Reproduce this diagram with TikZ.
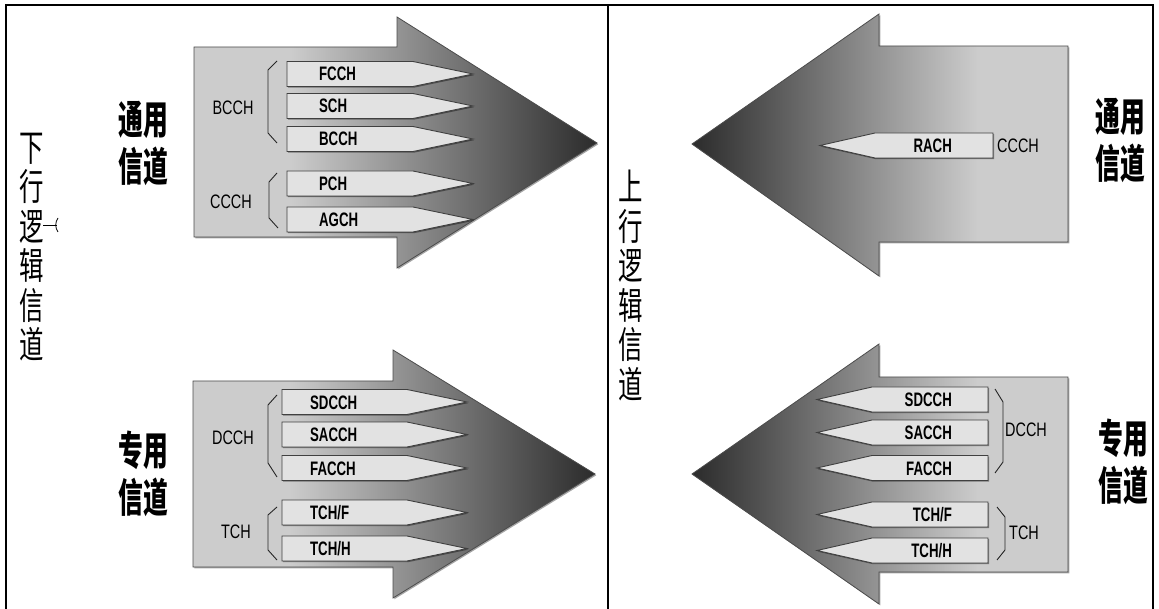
\documentclass[tikz,border=0pt]{standalone}
\usepackage{fontspec}
\setmainfont{Liberation Sans}
\newfontfamily\cjk{Noto Sans CJK SC}
\usetikzlibrary{shadows}
\definecolor{lite}{gray}{0.80}
\definecolor{dk}{gray}{0.17}
\definecolor{tagfill}{gray}{0.885}
\pgfdeclarehorizontalshading{shR}{100bp}{color(0bp)=(lite); color(37bp)=(lite); color(75bp)=(dk); color(100bp)=(dk)}
\pgfdeclarehorizontalshading{shL}{100bp}{color(0bp)=(dk); color(25bp)=(dk); color(63bp)=(lite); color(100bp)=(lite)}
\tikzset{
  frameline/.style={line width=1.4pt, black},
  bigR/.style={shading=shR, draw=black!70, line width=0.8pt,
     drop shadow={shadow xshift=1.3pt, shadow yshift=-1.3pt, fill=black, opacity=0.35}},
  bigL/.style={shading=shL, draw=black!70, line width=0.8pt,
     drop shadow={shadow xshift=1.3pt, shadow yshift=-1.3pt, fill=black, opacity=0.35}},
  tagbox/.style={fill=tagfill, draw=black!75, line width=0.9pt,
     drop shadow={shadow xshift=1pt, shadow yshift=-1.2pt, fill=black, opacity=0.4}},
  tagtext/.style={font=\fontsize{19.5}{19.5}\selectfont\bfseries, xscale=0.68, inner sep=0pt},
  grplabel/.style={font=\fontsize{19.5}{19.5}\selectfont, xscale=0.74, inner sep=0pt},
  bracket/.style={line width=0.9pt, black!85, line join=round},
  cjklabel/.style={font=\cjk\bfseries\fontsize{40}{47}\selectfont, xscale=0.62, align=center, inner sep=0pt},
  vlabel/.style={font=\cjk\fontsize{37}{39.5}\selectfont, xscale=0.66, align=center, inner sep=0pt}
}
% right-pointing tag: name, left x, taper x, tip x, center y, text, text x
\newcommand\tagR[7]{%
  \draw[tagbox] (#2,#5-12.5) -- (#3,#5-12.5) -- (#4,#5) -- (#3,#5+12.5) -- (#2,#5+12.5) -- cycle;
  \node[tagtext, anchor=base west] (#1) at (#7,#5+7) {#6};}
% left-pointing tag: name, right x, taper x, tip x, center y, text, text right x
\newcommand\tagL[7]{%
  \draw[tagbox] (#2,#5-12.5) -- (#3,#5-12.5) -- (#4,#5) -- (#3,#5+12.5) -- (#2,#5+12.5) -- cycle;
  \node[tagtext, anchor=base east] (#1) at (#7,#5+7) {#6};}
\begin{document}
\begin{tikzpicture}[x=1pt, y=-1pt]
\useasboundingbox (0,0) rectangle (1159,609);
% frame
\draw[frameline] (6,609) -- (6,5) -- (1153,5) -- (1153,609);
\draw[frameline] (608,5) -- (608,609);

% ---------- top-left big arrow ----------
\path[bigR] (194,47) -- (397,47) -- (397,17) -- (597,143) -- (397,268) -- (397,237) -- (194,237) -- cycle;
\tagR{fcch}{287}{413}{473}{74}{FCCH}{319}
\tagR{sch}{287}{413}{473}{106}{SCH}{319}
\tagR{bcch2}{287}{413}{473}{139}{BCCH}{319}
\tagR{pch}{287}{413}{473}{183.5}{PCH}{319}
\tagR{agch}{287}{413}{473}{219.5}{AGCH}{319}
\draw[bracket] (277,61) -- (268,70) -- (268,133) -- (277,143);
\draw[bracket] (277,173) -- (269,182) -- (269,218) -- (278,228);
\node[grplabel] (bcch) at (233,108) {BCCH};
\node[grplabel] (ccch) at (231,202) {CCCH};
\node[cjklabel] (ty1) at (143,143.5) {通用\\信道};

% ---------- bottom-left big arrow ----------
\path[bigR] (193,381) -- (393,381) -- (393,350) -- (595,474) -- (393,598) -- (393,567) -- (193,567) -- cycle;
\tagR{sdcch}{282}{407}{467}{402}{SDCCH}{310}
\tagR{sacch}{282}{407}{467}{434.5}{SACCH}{310}
\tagR{facch}{282}{407}{467}{468}{FACCH}{310}
\tagR{tchf}{282}{407}{467}{512.5}{TCH/F}{310}
\tagR{tchh}{282}{407}{467}{548.5}{TCH/H}{310}
\draw[bracket] (277,395) -- (268,405) -- (268,463) -- (277,477);
\draw[bracket] (277,507) -- (268,515) -- (268,550) -- (277,560);
\node[grplabel] (dcch) at (233,438) {DCCH};
\node[grplabel] (tch) at (236,532) {TCH};
\node[cjklabel] (zy1) at (143,474) {专用\\信道};

% ---------- top-right big arrow ----------
\path[bigL] (1068,46) -- (879,46) -- (879,14) -- (692,144) -- (879,276) -- (879,242) -- (1068,242) -- cycle;
\tagL{rach}{993}{875}{820}{145.5}{RACH}{952}
\node[grplabel] (ccchR) at (1018,146) {CCCH};
\node[cjklabel] (ty2) at (1120,140) {通用\\信道};

% ---------- bottom-right big arrow ----------
\path[bigL] (1068,377) -- (879,377) -- (879,344) -- (692,474) -- (879,604) -- (879,572) -- (1068,572) -- cycle;
\tagL{sdcchR}{988}{872}{817}{399.5}{SDCCH}{952}
\tagL{sacchR}{988}{872}{817}{432.5}{SACCH}{952}
\tagL{facchR}{988}{872}{817}{468}{FACCH}{952}
\tagL{tchfR}{988}{872}{817}{514.5}{TCH/F}{952}
\tagL{tchhR}{988}{872}{817}{550.5}{TCH/H}{952}
\draw[bracket] (995,389) -- (1003,402) -- (1003,462) -- (995,473);
\draw[bracket] (997,507) -- (1005,517) -- (1005,550) -- (997,560);
\node[grplabel] (dcchR) at (1026,430) {DCCH};
\node[grplabel] (tchR) at (1024,533) {TCH};
\node[cjklabel] (zy2) at (1123,462) {专用\\信道};

% ---------- vertical titles ----------
\node[vlabel] (down) at (32,247) {下\\行\\逻\\辑\\信\\道};
\node[vlabel] (up) at (631,285.5) {上\\行\\逻\\辑\\信\\道};
\coordinate (markA) at (43,225);
\coordinate (markB) at (57,225);
\draw[line width=0.8pt] (markA) -- (markB);
\draw[line width=0.8pt] (58,218) .. controls (55,222) and (55,228) .. (58,232);
\end{tikzpicture}
\end{document}
